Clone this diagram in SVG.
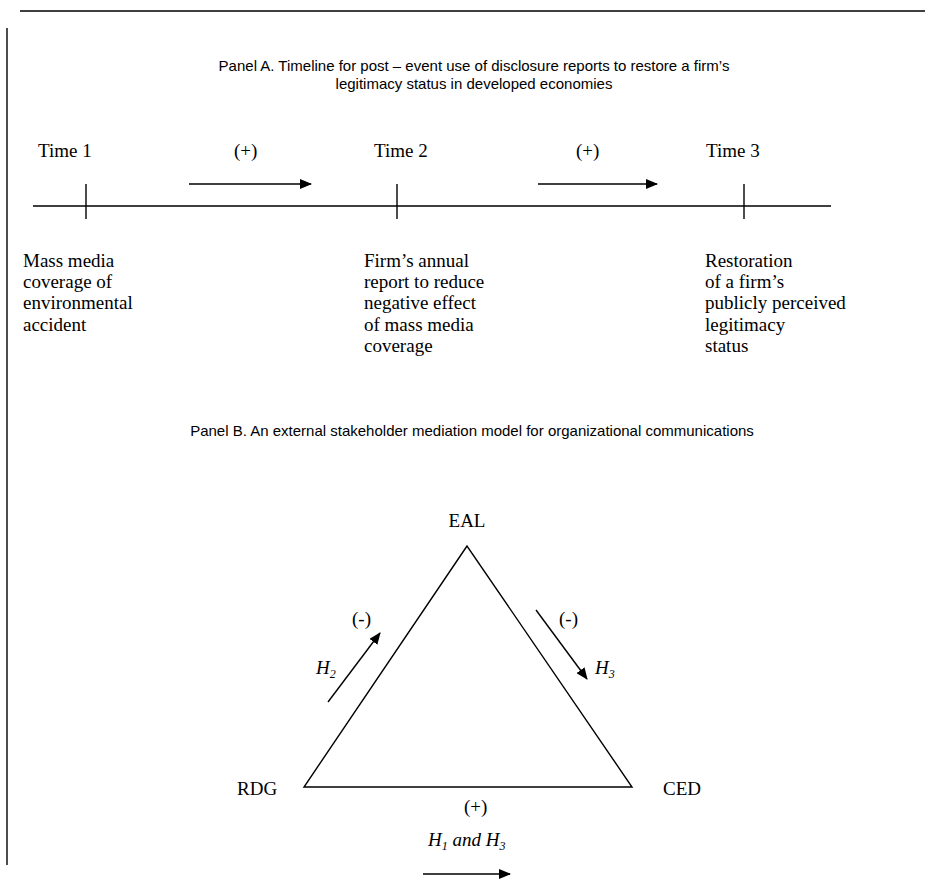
<svg xmlns="http://www.w3.org/2000/svg" width="925" height="885" viewBox="0 0 925 885">
<style>
.ln{stroke:#000;stroke-width:1.4;fill:none}
.t{font-family:"Liberation Serif","Times New Roman",serif;font-size:19px;fill:#000}
.ti{font-family:"Liberation Serif","Times New Roman",serif;font-size:19px;font-style:italic;fill:#000}
.s{font-family:"Liberation Sans",Arial,sans-serif;font-size:15px;fill:#000}
</style>
<defs>
<marker id="ah" viewBox="0 0 12 10" refX="11" refY="5" markerWidth="12" markerHeight="10" markerUnits="userSpaceOnUse" orient="auto">
<path d="M0,0 L12,5 L0,10 Z" fill="#000"/>
</marker>
</defs>
<rect width="925" height="885" fill="#fff"/>
<g id="frame">
<line class="ln" x1="20" y1="11" x2="925" y2="11" stroke-width="1.6"/>
<line class="ln" x1="7" y1="28" x2="7" y2="865"/>
</g>
<g id="panelA-title">
<text class="s" x="474" y="71" text-anchor="middle">Panel A. Timeline for post – event use of disclosure reports to restore a firm’s</text>
<text class="s" x="474" y="89" text-anchor="middle">legitimacy status in developed economies</text>
</g>
<g id="connectors">
<line class="ln" x1="33" y1="206" x2="831" y2="206"/>
<line class="ln" x1="86" y1="184" x2="86" y2="219"/>
<line class="ln" x1="397" y1="184" x2="397" y2="219"/>
<line class="ln" x1="744" y1="184" x2="744" y2="219"/>
<line class="ln" x1="189" y1="184" x2="311" y2="184" marker-end="url(#ah)"/>
<line class="ln" x1="538" y1="184" x2="657" y2="184" marker-end="url(#ah)"/>
<line class="ln" x1="328" y1="702" x2="380" y2="633" marker-end="url(#ah)"/>
<line class="ln" x1="536" y1="610" x2="587" y2="679" marker-end="url(#ah)"/>
<line class="ln" x1="423" y1="874" x2="510" y2="874" marker-end="url(#ah)"/>
</g>
<g id="time1">
<text class="t" x="38" y="157">Time 1</text>
<text class="t" x="23" y="267">Mass media</text>
<text class="t" x="23" y="288">coverage of</text>
<text class="t" x="23" y="309">environmental</text>
<text class="t" x="23" y="331">accident</text>
</g>
<g id="time2">
<text class="t" x="374" y="157">Time 2</text>
<text class="t" x="364" y="267">Firm’s annual</text>
<text class="t" x="364" y="288">report to reduce</text>
<text class="t" x="364" y="309">negative effect</text>
<text class="t" x="364" y="331">of mass media</text>
<text class="t" x="364" y="352">coverage</text>
</g>
<g id="time3">
<text class="t" x="706" y="157">Time 3</text>
<text class="t" x="705" y="267">Restoration</text>
<text class="t" x="705" y="288">of a firm’s</text>
<text class="t" x="705" y="309">publicly perceived</text>
<text class="t" x="705" y="331">legitimacy</text>
<text class="t" x="705" y="352">status</text>
</g>
<g id="labelsA">
<text class="t" x="234" y="157">(+)</text>
<text class="t" x="576" y="157">(+)</text>
</g>
<g id="panelB-title">
<text class="s" x="472" y="436" text-anchor="middle" font-size="15.5">Panel B. An external stakeholder mediation model for organizational communications</text>
</g>
<g id="triangle">
<path class="ln" d="M467,546 L304,787 L632,787 Z" stroke-linejoin="miter"/>
</g>
<g id="EAL"><text class="t" x="467" y="527" text-anchor="middle">EAL</text></g>
<g id="RDG"><text class="t" x="237" y="795">RDG</text></g>
<g id="CED"><text class="t" x="663" y="795">CED</text></g>
<g id="labelsB">
<text class="t" x="352" y="625">(-)</text>
<text class="ti" x="316" y="674">H<tspan font-size="12" dy="4">2</tspan></text>
<text class="t" x="559" y="625">(-)</text>
<text class="ti" x="595" y="674">H<tspan font-size="12" dy="4">3</tspan></text>
<text class="t" x="464" y="813">(+)</text>
<text class="ti" x="428" y="846">H<tspan font-size="12" dy="4">1</tspan><tspan dy="-4"> and H</tspan><tspan font-size="12" dy="4">3</tspan></text>
</g>
</svg>
